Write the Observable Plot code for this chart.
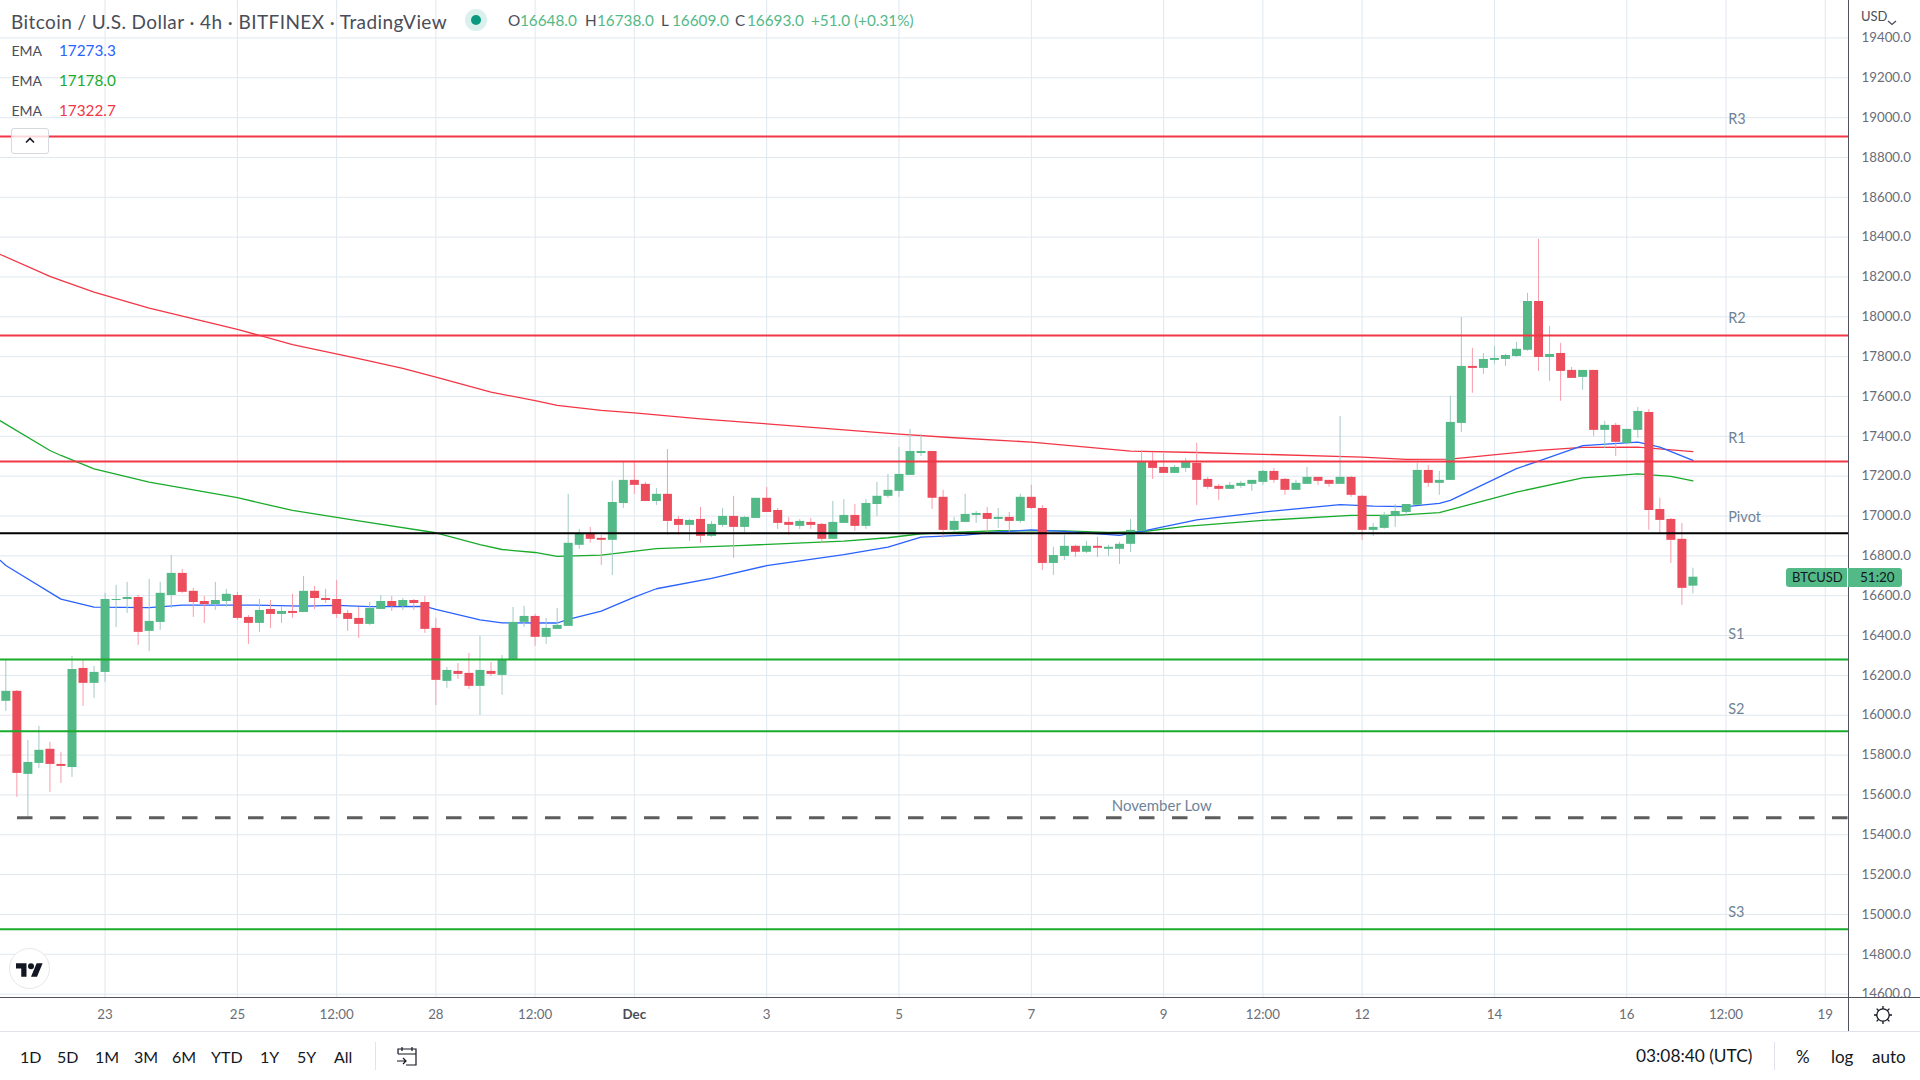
<!DOCTYPE html>
<html>
<head>
<meta charset="utf-8">
<script src="https://cdn.jsdelivr.net/npm/d3@7"></script>
<script src="https://cdn.jsdelivr.net/npm/@observablehq/plot@0.6"></script>
<style>
html,body{margin:0;padding:0;background:#fff;width:1920px;height:1080px;overflow:hidden}
#page{position:relative;width:1920px;height:1080px;font-family:Lato,sans-serif;color:#131722}
#chart{position:absolute;left:0;top:0}
#chart svg{display:block}
.t{position:absolute;white-space:nowrap;line-height:1}
.box{position:absolute}
</style>
</head>
<body>
<div id="page"><div id="chart"></div></div>
<script>
// OHLC, 4-hour bars, first bar 21 Nov 2022 12:00 UTC
const opens = [
16070,16120,15703,15758,15829,15753,15738,16235,16160,16215,
16576,16581,16591,16421,16466,16601,16712,16622,16571,16556,
16571,16601,16491,16461,16531,16506,16521,16516,16622,16586,
16581,16511,16486,16456,16531,16571,16546,16576,16566,16436,
16170,16220,16210,16145,16220,16200,16280,16466,16496,16391,
16431,16446,16853,16913,16888,16878,17063,17179,17159,17073,
17109,16983,16953,16983,16898,16953,16998,16943,16988,17089,
17028,16968,16948,16968,16958,16883,16963,17003,16948,17058,
17099,17124,17204,17314,17324,17094,16928,16968,17003,17013,
16983,16993,16973,17094,17038,16762,16797,16848,16818,16848,
16833,16833,16858,16923,17274,17244,17214,17239,17264,17184,
17149,17134,17149,17159,17169,17224,17184,17129,17159,17194,
17179,17159,17194,17099,16928,16938,16998,17018,17054,17229,
17164,17179,17465,17751,17741,17781,17786,17801,17832,18077,
17796,17816,17731,17696,17731,17430,17455,17365,17430,17520,
17033,16983,16883,16648];
const highs = [
16275,16125,15874,15944,15864,15814,16295,16275,16245,16612,
16652,16667,16601,16682,16667,16802,16732,16637,16596,16667,
16632,16617,16501,16581,16576,16541,16607,16697,16647,16632,
16677,16526,16541,16566,16601,16596,16586,16581,16596,16486,
16240,16260,16310,16396,16265,16300,16541,16546,16506,16486,
16536,17109,16933,16943,16903,17174,17274,17274,17169,17139,
17334,16998,16983,17043,16973,17038,17099,16998,17089,17144,
17038,16993,16983,16988,16963,17073,17083,17058,17083,17169,
17209,17344,17435,17410,17324,17129,16993,17109,17023,17043,
17038,17018,17109,17154,17053,16843,16903,16853,16873,16893,
16853,16868,16983,17329,17319,17319,17254,17289,17365,17194,
17159,17169,17174,17179,17229,17239,17189,17179,17244,17194,
17179,17500,17199,17104,16963,17018,17058,17058,17264,17254,
17224,17601,17997,17842,17816,17852,17811,17872,18118,18389,
17952,17867,17746,17731,17731,17475,17465,17435,17545,17535,
17089,16988,16963,16738];
const lows = [
16019,15588,15486,15733,15613,15658,15688,16044,16085,16165,
16441,16511,16351,16320,16426,16536,16612,16491,16461,16526,
16541,16476,16356,16416,16436,16461,16486,16516,16531,16561,
16486,16421,16386,16451,16531,16521,16526,16526,16411,16049,
16135,16180,16130,15999,16195,16100,16280,16441,16346,16356,
16431,16446,16833,16863,16752,16702,17038,17109,17073,17053,
16903,16903,16873,16863,16893,16943,16787,16918,16988,17018,
16933,16903,16933,16933,16863,16883,16963,16923,16933,16998,
17089,17094,17204,17299,17033,16888,16918,16968,16963,16918,
16938,16918,16963,17033,16727,16702,16777,16792,16812,16792,
16797,16757,16817,16923,17184,17214,17214,17219,17053,17134,
17078,17134,17139,17124,17154,17164,17104,17129,17159,17154,
17144,17159,17094,16878,16898,16933,16943,16998,17054,17144,
17104,17179,17420,17616,17711,17761,17751,17796,17827,17726,
17676,17576,17691,17631,17400,17340,17299,17365,17390,16928,
16913,16762,16552,16609];
const closes = [
16120,15708,15763,15824,15753,15743,16230,16160,16215,16581,
16581,16591,16416,16471,16612,16712,16617,16566,16556,16576,
16607,16486,16461,16526,16506,16521,16511,16622,16586,16576,
16506,16481,16456,16536,16571,16546,16576,16561,16431,16175,
16225,16205,16145,16225,16205,16280,16466,16496,16391,16436,
16451,16863,16913,16883,16878,17068,17179,17154,17073,17109,
16973,16953,16978,16898,16958,16998,16943,16993,17089,17018,
16963,16953,16973,16953,16883,16968,17003,16948,17063,17099,
17129,17209,17324,17324,17089,16928,16973,17008,17013,16983,
16993,16973,17094,17038,16762,16802,16848,16818,16848,16838,
16843,16858,16928,17274,17239,17214,17244,17269,17179,17144,
17134,17154,17164,17179,17224,17179,17129,17164,17194,17174,
17159,17194,17104,16928,16943,17003,17023,17058,17229,17164,
17179,17470,17751,17741,17786,17791,17806,17837,18077,17796,
17811,17726,17691,17731,17430,17455,17370,17435,17525,17028,
16978,16878,16637,16693];

// EMA readings: bar index and price
const emaBlueBars = [-0.5,0,5,8,13,16,22,27,30,33,38,39,43,45,50,51,54,57,59,64,69,76,80,83,87,90,93,96,101,103,108,114,121,124,127,130,131,137,139,143,148,150,153];
const emaBlueVals = [16777,16752,16583,16543,16540,16553,16553,16548,16551,16545,16546,16531,16479,16464,16463,16481,16523,16593,16635,16687,16751,16806,16844,16894,16904,16920,16930,16923,16903,16923,16981,17020,17057,17050,17047,17064,17079,17238,17276,17353,17371,17346,17279];
const emaGreenBars = [-0.5,4,5,8,13,21,26,32,39,43,45,48,50,54,59,67,76,80,83,87,90,96,100,103,107,114,122,126,130,137,143,148,151,153];
const emaGreenVals = [17478,17329,17304,17237,17170,17092,17028,16976,16916,16856,16832,16817,16797,16804,16836,16853,16874,16891,16911,16920,16926,16925,16918,16921,16948,16978,17003,17003,17017,17120,17192,17212,17199,17177];
const emaRedBars = [-0.5,4,5,8,13,21,26,32,36,39,44,48,50,54,57,63,69,81,86,93,102,108,123,127,131,139,143,148,153];
const emaRedVals = [18313,18203,18183,18124,18044,17937,17861,17790,17741,17697,17622,17579,17555,17530,17518,17488,17463,17411,17393,17371,17326,17319,17296,17284,17286,17330,17345,17346,17323];

// Levels
const resistance = [18905,17906,17274];
const pivot = [16913];
const support = [16280,15919,14925];
const novemberLow = 15485;
const novemberLowStartBar = 1.06;
const levelNames = ["R3","R2","R1","Pivot","S1","S2","S3"];
const levelLabelPrices = [18992,17992,17391,16994,16406,16029,15010];
const levelLabelBar = 156.2;
const noteText = "November Low";
const notePrice = 15544;
const noteBar = 100.3;

// Axes
const priceTicks = [14600,14800,15000,15200,15400,15600,15800,16000,16200,16400,16600,16800,17000,17200,17400,17600,17800,18000,18200,18400,18600,18800,19000,19200,19400];
const timeTickDates = ["2022-11-23T00:00Z","2022-11-25T00:00Z","2022-11-26T12:00Z","2022-11-28T00:00Z","2022-11-29T12:00Z","2022-12-01T00:00Z","2022-12-03T00:00Z","2022-12-05T00:00Z","2022-12-07T00:00Z","2022-12-09T00:00Z","2022-12-10T12:00Z","2022-12-12T00:00Z","2022-12-14T00:00Z","2022-12-16T00:00Z","2022-12-17T12:00Z","2022-12-19T00:00Z"];
const timeTickLabels = ["23","25","12:00","28","12:00","Dec","3","5","7","9","12:00","12","14","16","12:00","19"];

// Colours
const upBody="#53b987", downBody="#eb4d5c", upWick="#a3c9c6", downWick="#f79dab";
const blue="#2962ff", green="#19ab2b", red="#f23645", gridC="#dfe8ef";

const t0 = Date.UTC(2022,10,21,12);
const barTime = k => new Date(t0 + k*4*3600*1000);

const candles = opens.map((o,i)=>({t:barTime(i),o,h:highs[i],l:lows[i],c:closes[i]}));
const ups = candles.filter(d=>d.c>=d.o), downs = candles.filter(d=>d.c<d.o);
const series = (bars,vals)=>bars.map((k,i)=>({t:barTime(k),v:vals[i]}));
const tickDates = timeTickDates.map(s=>new Date(s));
const tickLabel = new Map(tickDates.map((d,i)=>[+d,timeTickLabels[i]]));
const labelFmt = d=>tickLabel.get(+d);
const plainTicks = tickDates.filter(d=>labelFmt(d)!=="Dec");
const boldTicks = tickDates.filter(d=>labelFmt(d)==="Dec");

const chart = Plot.plot({
  width:1920, height:1031,
  marginLeft:0, marginRight:71, marginTop:0, marginBottom:34,
  style:{background:"transparent",fontFamily:"Lato, sans-serif",fontSize:"13.3px"},
  x:{type:"utc",domain:[barTime(-0.4834),barTime(167.2)],label:null},
  y:{type:"linear",domain:[14583,19588],label:null},
  marks:[
    Plot.gridX(tickDates,{stroke:gridC,strokeOpacity:1,strokeWidth:1}),
    Plot.gridY(priceTicks,{stroke:gridC,strokeOpacity:1,strokeWidth:1}),
    Plot.axisY(priceTicks,{anchor:"right",tickSize:0,tickPadding:12,tickFormat:d=>d.toFixed(1),fill:"#6a6d78",label:null}),
    Plot.axisX(plainTicks,{anchor:"bottom",tickSize:0,tickPadding:12,tickFormat:labelFmt,fill:"#6a6d78",label:null}),
    Plot.axisX(boldTicks,{anchor:"bottom",tickSize:0,tickPadding:12,tickFormat:labelFmt,fill:"#4a4d58",fontWeight:"bold",label:null}),
    Plot.line(series(emaRedBars,emaRedVals),{x:"t",y:"v",stroke:red,strokeWidth:1.3,curve:"linear"}),
    Plot.line(series(emaGreenBars,emaGreenVals),{x:"t",y:"v",stroke:green,strokeWidth:1.3,curve:"linear"}),
    Plot.line(series(emaBlueBars,emaBlueVals),{x:"t",y:"v",stroke:blue,strokeWidth:1.3,curve:"linear"}),
    Plot.ruleX(ups,{x:"t",y1:"l",y2:"h",stroke:upWick,strokeWidth:1}),
    Plot.ruleX(downs,{x:"t",y1:"l",y2:"h",stroke:downWick,strokeWidth:1}),
    Plot.ruleX(ups,{x:"t",y1:"o",y2:"c",stroke:upBody,strokeWidth:9}),
    Plot.ruleX(downs,{x:"t",y1:"o",y2:"c",stroke:downBody,strokeWidth:9}),
    Plot.ruleY(resistance,{stroke:red,strokeWidth:2}),
    Plot.ruleY(support,{stroke:green,strokeWidth:2}),
    Plot.ruleY(pivot,{stroke:"#000",strokeWidth:2}),
    Plot.ruleY([novemberLow],{x1:barTime(novemberLowStartBar),x2:barTime(167.2),stroke:"#5d5d5d",strokeWidth:3,strokeDasharray:"15.5,17.5"}),
    Plot.text(levelNames,{x:()=>barTime(levelLabelBar),y:(d,i)=>levelLabelPrices[i],text:d=>d,textAnchor:"start",fill:"#6f8398",fontSize:14.5}),
    Plot.text([noteText],{x:()=>barTime(noteBar),y:()=>notePrice,text:d=>d,textAnchor:"start",fill:"#6f8398",fontSize:15})
  ]
});
document.getElementById("chart").appendChild(chart);

// Page furniture around the chart
const page = document.getElementById("page");
function text(s,x,cy,size,color,extra=""){
  const e=document.createElement("div");e.className="t";e.textContent=s;
  e.style.cssText=`left:${x}px;top:${cy-size/2}px;font-size:${size}px;color:${color};${extra}`;
  page.appendChild(e);return e;
}
function box(css,html=""){
  const e=document.createElement("div");e.className="box";e.style.cssText=css;e.innerHTML=html;page.appendChild(e);return e;
}
// axis lines
box("left:1848px;top:0;width:1px;height:1031px;background:#50535e");
box("left:0;top:997px;width:1920px;height:1px;background:#50535e");
box("left:1849px;top:998px;width:71px;height:33px;background:#fff");
box("left:0;top:1031px;width:1920px;height:1px;background:#e0e3eb");
// header
text("Bitcoin / U.S. Dollar · 4h · BITFINEX · TradingView",11,21,19,"#4a4d58","letter-spacing:.42px");
box("left:465px;top:9px;width:22px;height:22px;border-radius:50%;background:#d9f0ec");
box("left:471px;top:15px;width:10px;height:10px;border-radius:50%;background:#089981");
[["O",508,"#4a4d58"],["16648.0",520,upBody],["H",585,"#4a4d58"],["16738.0",597,upBody],["L",661,"#4a4d58"],["16609.0",672,upBody],["C",735,"#4a4d58"],["16693.0",747,upBody],["+51.0 (+0.31%)",811,upBody]]
 .forEach(([s,x,c])=>text(s,x,21,15.3,c));
[["17273.3",51,blue],["17178.0",81,green],["17322.7",111,red]].forEach(([s,y,c])=>{
  text("EMA",11.5,y,14,"#4a4d58");text(s,59,y,15.3,c);
});
box("left:11px;top:128px;width:36px;height:24px;border:1px solid #d6d8de;border-radius:3px;background:rgba(255,255,255,.8)",
 '<svg width="36" height="24" viewBox="0 0 36 24"><path d="M14 13.5l4-4 4 4" fill="none" stroke="#131722" stroke-width="1.6"/></svg>');
// currency
box("left:1850px;top:0;width:70px;height:29px;background:#fff");
text("USD",1861,16,13,"#4a4d58");
box("left:1887px;top:11px;width:10px;height:8px",'<svg width="10" height="8"><path d="M1 2l4 3.5L9 2" fill="none" stroke="#4a4d58" stroke-width="1.3"/></svg>');
// last price tag
box("left:1786px;top:568px;width:61px;height:19px;background:"+upBody+";border-radius:3px 0 0 3px");
box("left:1848px;top:568px;width:54px;height:19px;background:"+upBody+";border-radius:0 3px 3px 0");
text("BTCUSD",1792,577.5,13,"#131722");
text("51:20",1860,577.5,13.5,"#131722");
// logo
box("left:9px;top:948px;width:41px;height:41px;border:1px solid #e6e7ea;border-radius:50%;background:#fff;box-sizing:border-box",
 '<svg style="position:absolute;left:6px;top:14px" width="27" height="14" viewBox="0 4 36 18"><path fill="#131722" d="M14 22H7V11H0V4h14v18zM28 22h-8l7.5-18h8L28 22z"/><circle cx="20" cy="8" r="4" fill="#131722"/></svg>');
// gear
box("left:1873px;top:1005px;width:20px;height:20px",
 '<svg width="20" height="20" viewBox="0 0 20 20"><circle cx="10" cy="10" r="6.2" fill="none" stroke="#131722" stroke-width="1.3"/><path d="M10 1v3M10 16v3M1 10h3M16 10h3M3.6 3.6l2.1 2.1M14.3 14.3l2.1 2.1M3.6 16.4l2.1-2.1M14.3 5.7l2.1-2.1" stroke="#131722" stroke-width="1.3"/></svg>');
// bottom bar
[["1D",20],["5D",57],["1M",95],["3M",134],["6M",172],["YTD",211],["1Y",260],["5Y",297],["All",334]].forEach(([s,x])=>text(s,x,1056.5,16,"#131722"));
box("left:375px;top:1042px;width:1px;height:28px;background:#e0e3eb");
box("left:396px;top:1045px;width:22px;height:22px",
 '<svg width="22" height="22" viewBox="0 0 22 22"><path d="M2 9V4h18v16H10M2 9h18M6 2v4M16 2v4M1 16h9M7 13l3 3-3 3" fill="none" stroke="#131722" stroke-width="1.2"/></svg>');
text("03:08:40 (UTC)",1636,1056,17.3,"#131722");
box("left:1774px;top:1042px;width:1px;height:28px;background:#e0e3eb");
text("%",1796,1056,17,"#131722");
text("log",1831,1056,17,"#131722");
text("auto",1872,1056,17,"#131722");
</script>
</body>
</html>
